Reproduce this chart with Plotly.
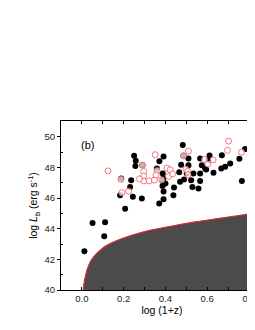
import plotly.graph_objects as go

# Black filled points: log(1+z), log Lb
black_x = [0.012, 0.051, 0.111, 0.107, 0.183, 0.188, 0.207, 0.231, 0.236, 0.244,
           0.250, 0.258, 0.256, 0.287, 0.290, 0.359, 0.370, 0.391, 0.391, 0.386,
           0.400, 0.386, 0.390, 0.387, 0.371, 0.391, 0.438, 0.441, 0.470, 0.466,
           0.475, 0.483, 0.486, 0.489, 0.502, 0.510, 0.510, 0.523, 0.529, 0.534,
           0.558, 0.566, 0.566, 0.566, 0.574, 0.590, 0.595, 0.606, 0.611, 0.630,
           0.667, 0.670, 0.686, 0.710, 0.754, 0.781, 0.766, 0.813]
black_y = [42.53, 44.38, 44.42, 43.51, 46.19, 47.28, 45.30, 46.73, 47.17, 46.08,
           48.76, 48.43, 48.10, 45.97, 48.15, 47.93, 45.65, 45.93, 46.43, 46.78,
           46.95, 47.12, 47.30, 47.61, 48.41, 48.72, 46.19, 46.69, 47.06, 47.68,
           48.18, 49.46, 48.76, 47.21, 47.61, 48.59, 48.15, 47.17, 46.73, 47.61,
           46.63, 47.12, 47.61, 48.59, 48.15, 47.93, 47.87, 48.50, 48.78, 47.65,
           47.93, 48.80, 48.04, 48.26, 48.56, 49.20, 47.11, 47.28]

# Red open points
red_x = [0.125, 0.187, 0.191, 0.224, 0.290, 0.296, 0.296, 0.296, 0.276, 0.321,
         0.351, 0.360, 0.355, 0.347, 0.382, 0.407, 0.422, 0.415, 0.434, 0.486,
         0.510, 0.498, 0.506, 0.508, 0.587, 0.603, 0.628, 0.702, 0.697, 0.764]
red_y = [47.77, 47.23, 46.35, 46.45, 48.15, 47.73, 47.45, 47.12, 47.25, 47.12,
         48.83, 47.80, 47.50, 47.17, 47.19, 47.95, 47.85, 47.41, 47.58, 48.76,
         49.07, 47.88, 47.75, 47.52, 48.52, 48.22, 48.49, 49.72, 49.11, 49.00]

# Flux-limit curve
curve_x = [0.006, 0.012, 0.024, 0.040, 0.064, 0.088, 0.111, 0.170, 0.200, 0.250,
           0.330, 0.400, 0.500, 0.570, 0.650, 0.750, 0.830, 0.900]
curve_y = [40.0, 40.6, 41.3, 41.85, 42.3, 42.6, 42.85, 43.25, 43.4, 43.62,
           43.92, 44.1, 44.35, 44.5, 44.67, 44.86, 45.03, 45.15]

font = "Liberation Sans, Arial, sans-serif"

fig = go.Figure()
fig.add_trace(go.Scatter(x=curve_x, y=curve_y, mode="lines", fill="tozeroy",
                         fillcolor="#4b4b4b",
                         line=dict(color="#e8262b", width=1.1, shape="spline", smoothing=0.8),
                         hoverinfo="skip", showlegend=False))
fig.add_trace(go.Scatter(x=black_x, y=black_y, mode="markers",
                         marker=dict(symbol="circle", size=6, color="black",
                                     line=dict(width=0)), showlegend=False))
fig.add_trace(go.Scatter(x=red_x, y=red_y, mode="markers",
                         marker=dict(symbol="circle", size=6,
                                     color="rgba(255,255,255,0.72)",
                                     line=dict(color="#f0595d", width=0.8)),
                         showlegend=False))

fig.add_annotation(x=0.09, y=0.905, xref="paper", yref="paper", text="(b)",
                   showarrow=False, font=dict(family=font, size=11, color="black"))

fig.update_layout(
    width=255, height=330,
    margin=dict(l=53, r=0, t=113, b=48),
    plot_bgcolor="white", paper_bgcolor="white",
    font=dict(family=font, size=9, color="#222"),
    xaxis=dict(range=[-0.1, 0.867], showgrid=False, zeroline=False,
               showline=True, linecolor="black", linewidth=1, mirror="ticks",
               ticks="inside", ticklen=3, tickcolor="black",
               ticklabeloverflow="allow",
               tickvals=[0.0, 0.2, 0.4, 0.6, 0.8],
               ticktext=["0.0", "0.2", "0.4", "0.6", "0.8"],
               minor=dict(tickvals=[-0.1, 0.1, 0.3, 0.5, 0.7], ticks="inside",
                          ticklen=3, tickcolor="black"),
               tickfont=dict(size=9.5, family=font, color="#222"),
               title=dict(text="log (1+z)", font=dict(size=10.5, family=font, color="black"),
                          standoff=2)),
    yaxis=dict(range=[40, 51.03], showgrid=False, zeroline=False,
               showline=True, linecolor="black", linewidth=1,
               ticks="outside", ticklen=3, tickcolor="black",
               tickvals=[40, 42, 44, 46, 48, 50],
               minor=dict(tickvals=[41, 43, 45, 47, 49], ticks="inside",
                          ticklen=2, tickcolor="black"),
               tickfont=dict(size=9.5, family=font, color="#222"),
               title=dict(text="log <i>L</i><sub>b</sub> (erg s<sup>-1</sup>)",
                          font=dict(size=10.5, family=font, color="black"),
                          standoff=4)),
)

fig.write_html("out.html")
